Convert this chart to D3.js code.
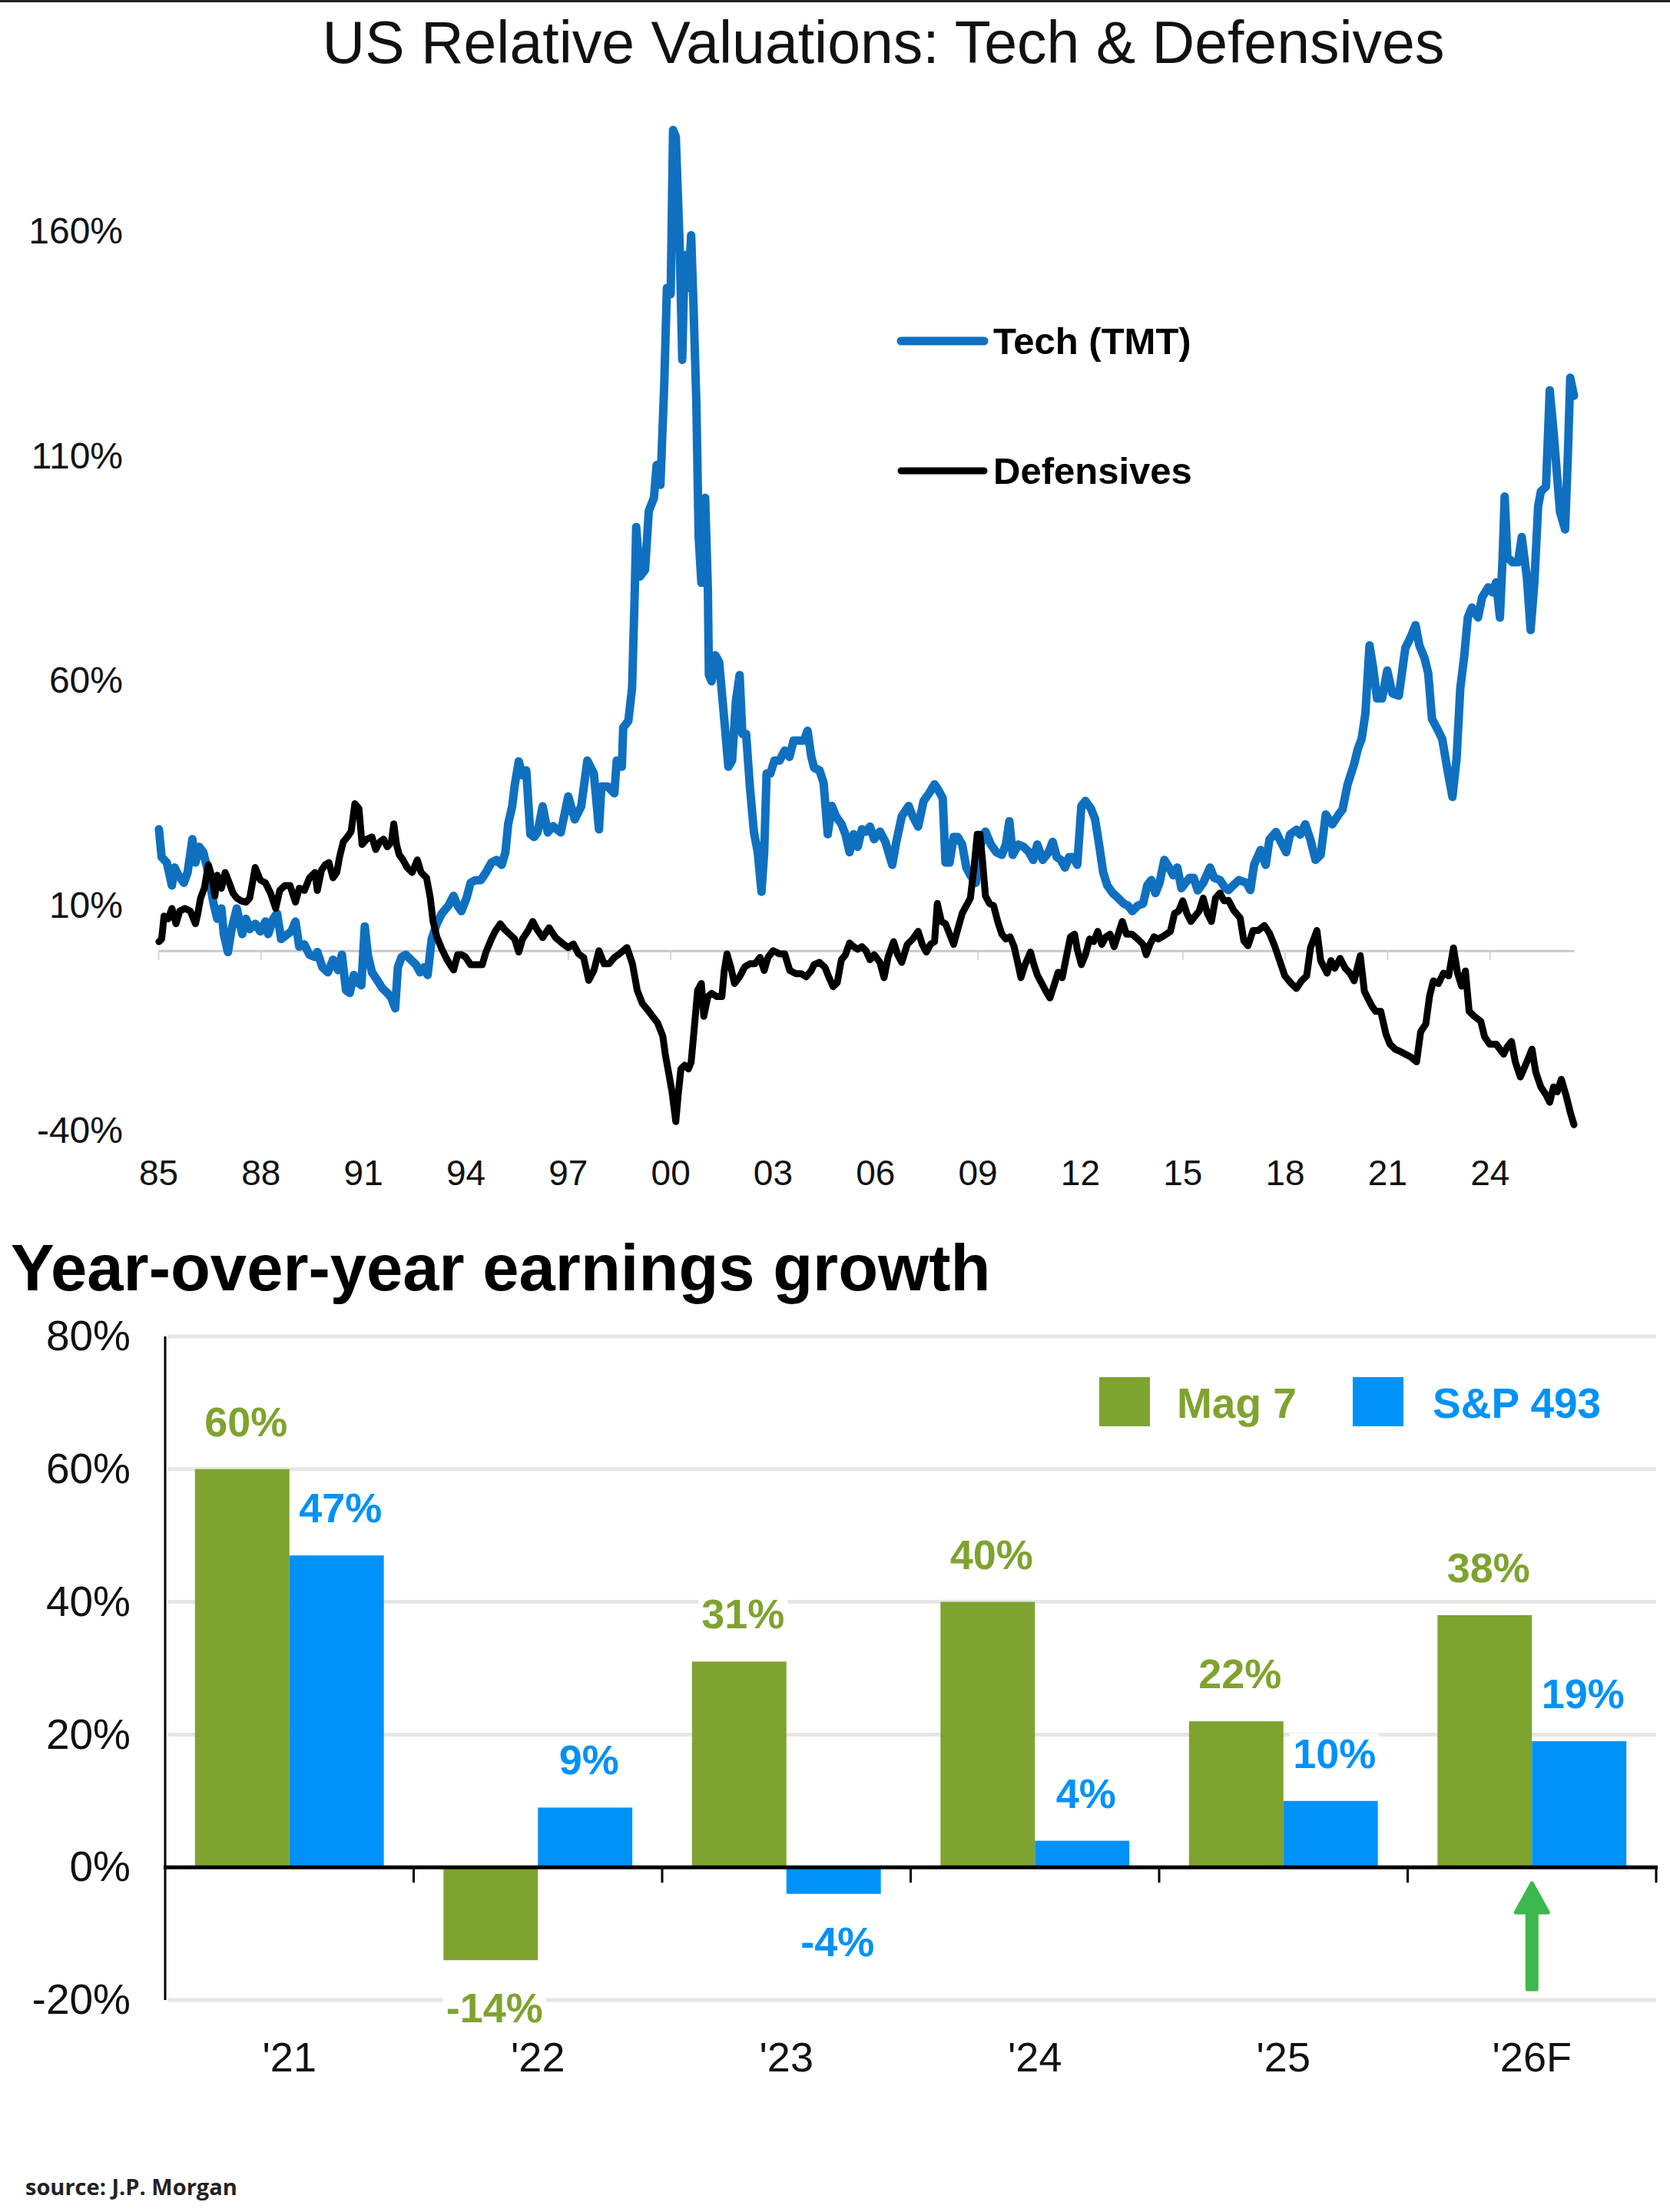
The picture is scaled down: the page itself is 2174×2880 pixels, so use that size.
<!DOCTYPE html>
<meta charset="utf-8">
<style>
  body { margin: 0; background: #fff; }
  svg { display: block; }
</style>
<svg width="2174" height="2880"></svg>
<script src="https://d3js.org/d3.v7.min.js"></script>
<script>

// relative valuation vs market, % (year, value)
var techSeries = [
  [1985.02,27.0],[1985.10,20.8],[1985.25,19.6],[1985.40,14.5],[1985.48,18.5],[1985.59,16.8],[1985.75,15.1],[1985.86,17.4],
  [1986.00,24.8],[1986.09,19.6],[1986.20,23.1],[1986.32,21.9],[1986.43,18.5],[1986.51,15.1],[1986.62,10.5],[1986.73,7.1],
  [1986.85,9.4],[1986.92,3.7],[1987.04,-0.3],[1987.15,4.8],[1987.30,9.4],[1987.46,3.7],[1987.57,7.1],[1987.68,4.8],
  [1987.84,6.0],[1987.99,4.3],[1988.14,6.5],[1988.22,3.7],[1988.37,7.1],[1988.48,8.3],[1988.60,2.6],[1988.79,3.7],
  [1988.90,4.3],[1989.02,6.5],[1989.13,0.9],[1989.28,1.4],[1989.43,-0.9],[1989.59,-1.4],[1989.66,-0.3],[1989.81,-3.7],
  [1989.97,-4.8],[1990.12,-2.0],[1990.27,-4.3],[1990.38,-0.9],[1990.50,-8.8],[1990.61,-9.4],[1990.73,-5.4],[1990.84,-7.1],
  [1990.95,-7.7],[1991.05,5.4],[1991.14,-0.9],[1991.26,-4.8],[1991.41,-6.5],[1991.56,-8.3],[1991.71,-9.4],[1991.83,-10.5],
  [1991.94,-12.8],[1992.02,-3.7],[1992.13,-1.4],[1992.25,-0.9],[1992.40,-2.0],[1992.55,-3.1],[1992.67,-4.8],[1992.78,-3.7],
  [1992.89,-5.4],[1993.01,2.6],[1993.16,6.0],[1993.31,8.3],[1993.50,10.0],[1993.65,12.2],[1993.77,10.0],[1993.88,8.8],
  [1994.03,11.7],[1994.15,15.1],[1994.30,15.7],[1994.45,15.7],[1994.60,17.4],[1994.76,19.6],[1994.91,20.2],[1995.06,19.1],
  [1995.17,21.9],[1995.25,28.2],[1995.37,32.2],[1995.44,36.7],[1995.56,42.1],[1995.67,39.0],[1995.78,40.1],[1995.90,25.9],
  [1996.01,25.3],[1996.11,26.3],[1996.26,32.1],[1996.41,26.3],[1996.56,27.7],[1996.79,26.3],[1997.01,34.3],[1997.20,29.2],
  [1997.39,32.1],[1997.57,42.3],[1997.76,39.4],[1997.91,27.0],[1997.98,36.5],[1998.17,36.5],[1998.36,35.0],[1998.43,42.3],
  [1998.58,40.9],[1998.62,49.6],[1998.77,51.1],[1998.88,58.4],[1998.96,80.3],[1999.00,94.2],[1999.11,83.2],[1999.26,84.7],
  [1999.37,97.8],[1999.52,100.7],[1999.60,108.0],[1999.71,103.6],[1999.82,125.5],[1999.90,147.4],[2000.01,146.0],[2000.08,182.5],
  [2000.16,181.0],[2000.27,157.7],[2000.35,131.4],[2000.42,154.7],[2000.53,147.4],[2000.61,159.1],[2000.68,143.1],[2000.76,122.6],
  [2000.83,92.0],[2000.91,81.8],[2001.02,100.7],[2001.10,80.3],[2001.13,61.3],[2001.21,59.9],[2001.32,65.7],[2001.43,64.2],
  [2001.55,54.0],[2001.70,40.9],[2001.81,42.3],[2001.92,55.5],[2002.03,61.3],[2002.11,48.2],[2002.22,48.2],[2002.33,36.5],
  [2002.45,26.3],[2002.56,21.9],[2002.67,13.1],[2002.75,21.9],[2002.82,39.4],[2002.93,39.4],[2003.05,42.3],[2003.20,42.3],
  [2003.35,44.5],[2003.49,43.1],[2003.61,46.7],[2003.76,46.7],[2003.91,46.7],[2004.02,48.9],[2004.13,43.1],[2004.21,40.7],
  [2004.37,40.1],[2004.49,37.3],[2004.61,25.9],[2004.73,32.2],[2004.85,29.9],[2005.01,28.2],[2005.13,25.9],[2005.25,21.9],
  [2005.37,25.9],[2005.49,23.1],[2005.61,27.0],[2005.73,26.5],[2005.85,27.6],[2005.97,24.8],[2006.14,26.5],[2006.30,24.2],
  [2006.50,19.1],[2006.62,24.2],[2006.78,29.9],[2006.98,32.2],[2007.10,29.9],[2007.26,27.6],[2007.42,33.3],[2007.58,35.0],
  [2007.74,37.0],[2007.86,35.6],[2007.98,33.9],[2008.06,19.6],[2008.18,19.6],[2008.30,25.3],[2008.42,25.3],[2008.55,23.6],
  [2008.67,18.5],[2008.79,16.8],[2008.95,15.1],[2009.07,23.1],[2009.23,26.5],[2009.39,23.6],[2009.55,21.9],[2009.71,21.3],
  [2009.83,23.6],[2009.93,28.8],[2010.03,21.3],[2010.19,23.6],[2010.35,23.1],[2010.51,21.9],[2010.63,20.2],[2010.75,23.6],
  [2010.91,20.2],[2011.08,21.9],[2011.20,24.2],[2011.32,20.8],[2011.44,20.2],[2011.56,18.5],[2011.68,20.8],[2011.80,20.8],
  [2011.92,19.1],[2012.04,32.2],[2012.16,33.3],[2012.32,31.6],[2012.44,29.3],[2012.56,23.6],[2012.68,17.4],[2012.80,14.5],
  [2012.96,12.8],[2013.12,11.7],[2013.28,10.5],[2013.41,10.0],[2013.53,8.8],[2013.69,10.0],[2013.85,10.5],[2013.97,14.5],
  [2014.09,15.7],[2014.21,12.8],[2014.33,15.1],[2014.47,20.2],[2014.61,18.5],[2014.73,16.8],[2014.85,18.5],[2014.97,13.9],
  [2015.09,15.1],[2015.21,16.2],[2015.33,16.2],[2015.45,13.4],[2015.61,15.1],[2015.81,18.5],[2015.93,16.2],[2016.10,15.7],
  [2016.26,13.9],[2016.35,13.5],[2016.65,15.7],[2016.88,15.1],[2016.99,13.5],[2017.10,19.1],[2017.29,22.4],[2017.44,19.1],
  [2017.55,24.7],[2017.74,26.4],[2017.85,24.7],[2018.04,21.9],[2018.15,25.8],[2018.34,26.9],[2018.45,25.8],[2018.60,28.1],
  [2018.75,24.7],[2018.90,20.2],[2019.05,21.3],[2019.20,30.3],[2019.39,28.1],[2019.58,30.3],[2019.69,31.4],[2019.84,37.0],
  [2020.03,41.5],[2020.14,44.9],[2020.25,47.1],[2020.36,52.7],[2020.48,67.9],[2020.59,62.8],[2020.70,56.1],[2020.85,56.1],
  [2021.00,62.3],[2021.15,57.2],[2021.34,56.7],[2021.53,67.3],[2021.68,69.6],[2021.83,72.4],[2021.94,67.9],[2022.09,65.1],
  [2022.20,61.7],[2022.31,51.6],[2022.46,49.4],[2022.61,47.1],[2022.76,40.4],[2022.91,34.2],[2023.03,42.6],[2023.14,58.4],
  [2023.25,65.1],[2023.36,74.1],[2023.48,76.3],[2023.66,74.1],[2023.78,78.6],[2023.96,80.8],[2024.08,79.7],[2024.19,81.9],
  [2024.30,74.1],[2024.38,87.5],[2024.44,101.0],[2024.52,87.5],[2024.67,86.4],[2024.83,86.4],[2024.94,92.0],[2025.09,83.0],
  [2025.20,71.3],[2025.31,81.9],[2025.42,98.8],[2025.50,102.1],[2025.65,103.2],[2025.76,124.6],[2025.87,115.6],[2026.06,97.6],
  [2026.21,93.7],[2026.29,110.0],[2026.36,127.4],[2026.47,123.4]
];

var defensiveSeries = [
  [1985.02,2.0],[1985.10,2.6],[1985.17,7.7],[1985.29,7.1],[1985.40,9.4],[1985.52,6.0],[1985.63,8.8],[1985.78,9.4],
  [1985.94,8.8],[1986.09,6.0],[1986.16,8.3],[1986.24,11.7],[1986.35,13.9],[1986.47,19.1],[1986.58,16.2],[1986.66,12.2],
  [1986.73,16.8],[1986.85,13.9],[1986.96,17.4],[1987.08,15.1],[1987.19,12.8],[1987.30,11.7],[1987.42,11.1],[1987.57,10.8],
  [1987.68,11.7],[1987.84,18.5],[1987.99,15.7],[1988.14,15.1],[1988.29,12.8],[1988.44,9.4],[1988.56,13.4],[1988.71,14.5],
  [1988.86,14.5],[1989.02,10.8],[1989.13,13.9],[1989.28,13.4],[1989.43,16.2],[1989.59,17.4],[1989.66,13.4],[1989.78,17.9],
  [1989.89,19.1],[1990.00,19.6],[1990.12,16.2],[1990.23,17.4],[1990.31,20.8],[1990.42,24.2],[1990.54,25.3],[1990.65,26.5],
  [1990.76,32.7],[1990.88,31.6],[1990.97,23.6],[1991.11,24.8],[1991.26,25.3],[1991.37,22.5],[1991.49,24.2],[1991.60,24.8],
  [1991.71,23.1],[1991.83,24.2],[1991.90,28.2],[1991.98,23.6],[1992.06,21.3],[1992.17,20.2],[1992.29,18.5],[1992.44,17.4],
  [1992.59,20.2],[1992.70,17.4],[1992.86,16.2],[1992.97,11.7],[1993.05,6.5],[1993.16,3.1],[1993.31,0.3],[1993.46,-2.0],
  [1993.65,-4.3],[1993.77,-0.9],[1993.88,-0.9],[1994.00,-1.4],[1994.15,-3.1],[1994.34,-3.1],[1994.49,-3.1],[1994.60,-0.3],
  [1994.76,2.6],[1994.87,4.3],[1995.02,6.0],[1995.14,4.8],[1995.29,3.7],[1995.44,2.6],[1995.56,-0.3],[1995.67,2.6],
  [1995.82,4.3],[1995.97,6.5],[1996.09,4.8],[1996.26,2.9],[1996.45,5.1],[1996.64,2.9],[1996.86,1.5],[1997.01,0.7],
  [1997.16,1.5],[1997.31,-0.7],[1997.46,-1.5],[1997.61,-6.6],[1997.76,-4.4],[1997.91,0.0],[1998.06,-2.9],[1998.21,-2.9],
  [1998.36,-1.5],[1998.51,-0.7],[1998.73,0.7],[1998.89,-2.9],[1999.03,-8.8],[1999.18,-11.7],[1999.33,-13.1],[1999.48,-14.6],
  [1999.63,-16.1],[1999.78,-19.0],[1999.86,-23.4],[1999.93,-26.3],[2000.05,-31.4],[2000.16,-38.0],[2000.23,-32.1],[2000.31,-26.3],
  [2000.42,-25.5],[2000.53,-26.3],[2000.61,-24.8],[2000.68,-19.0],[2000.80,-8.8],[2000.91,-7.3],[2000.98,-14.6],[2001.10,-10.2],
  [2001.21,-9.5],[2001.36,-10.2],[2001.51,-10.2],[2001.58,-4.4],[2001.66,-0.7],[2001.77,-3.6],[2001.88,-7.3],[2002.03,-5.8],
  [2002.18,-3.6],[2002.33,-2.9],[2002.48,-2.9],[2002.63,-1.5],[2002.75,-4.4],[2002.86,-1.5],[2003.01,0.0],[2003.20,-0.7],
  [2003.35,-0.7],[2003.50,-4.4],[2003.68,-5.1],[2003.83,-5.1],[2003.98,-5.8],[2004.13,-4.4],[2004.21,-3.1],[2004.37,-2.6],
  [2004.53,-3.7],[2004.65,-6.0],[2004.77,-8.0],[2004.89,-7.1],[2005.01,-2.0],[2005.13,-0.9],[2005.25,1.7],[2005.37,0.9],
  [2005.49,0.3],[2005.61,0.9],[2005.73,0.0],[2005.85,-2.0],[2005.97,-0.9],[2006.14,-2.6],[2006.26,-6.0],[2006.38,-1.4],
  [2006.54,2.0],[2006.66,-0.9],[2006.78,-2.6],[2006.94,1.4],[2007.10,2.6],[2007.26,4.3],[2007.38,1.4],[2007.50,-0.3],
  [2007.62,1.4],[2007.74,2.0],[2007.82,10.5],[2007.94,6.5],[2008.06,6.0],[2008.18,3.7],[2008.30,1.4],[2008.42,4.8],
  [2008.55,8.3],[2008.67,10.0],[2008.79,11.7],[2008.91,19.6],[2008.99,25.9],[2009.07,25.9],[2009.15,19.6],[2009.23,12.2],
  [2009.35,10.5],[2009.47,10.0],[2009.59,6.5],[2009.71,3.7],[2009.83,2.6],[2009.95,3.1],[2010.07,0.9],[2010.19,-3.1],
  [2010.27,-6.0],[2010.39,-3.1],[2010.55,-0.3],[2010.63,-2.6],[2010.75,-5.4],[2010.91,-7.7],[2011.03,-9.4],[2011.12,-10.5],
  [2011.24,-7.7],[2011.36,-4.8],[2011.48,-6.0],[2011.60,-1.4],[2011.72,3.1],[2011.84,3.7],[2011.92,0.3],[2012.04,-3.1],
  [2012.16,-0.9],[2012.28,2.6],[2012.40,2.0],[2012.52,4.3],[2012.64,1.4],[2012.76,3.1],[2012.88,3.7],[2013.00,0.9],
  [2013.12,3.7],[2013.24,6.5],[2013.36,3.7],[2013.52,3.7],[2013.69,2.6],[2013.85,1.4],[2013.94,-0.9],[2014.05,1.4],
  [2014.17,3.1],[2014.29,2.6],[2014.41,3.1],[2014.53,3.7],[2014.65,4.3],[2014.77,8.3],[2014.89,8.8],[2015.01,11.1],
  [2015.13,8.3],[2015.25,6.5],[2015.37,7.7],[2015.49,8.8],[2015.61,11.7],[2015.73,8.3],[2015.85,6.5],[2015.97,11.7],
  [2016.10,12.8],[2016.22,11.1],[2016.35,11.2],[2016.50,9.0],[2016.69,7.3],[2016.80,2.2],[2016.92,1.1],[2017.07,4.5],
  [2017.22,4.5],[2017.40,5.6],[2017.55,3.9],[2017.70,1.1],[2017.85,-2.2],[2018.00,-5.6],[2018.19,-7.3],[2018.34,-8.4],
  [2018.49,-6.7],[2018.64,-5.6],[2018.75,0.6],[2018.94,4.5],[2019.05,-2.2],[2019.24,-5.0],[2019.35,-2.2],[2019.46,-3.9],
  [2019.62,-1.7],[2019.77,-3.9],[2019.91,-5.0],[2020.03,-6.7],[2020.21,-1.1],[2020.33,-9.0],[2020.44,-10.7],[2020.55,-12.3],
  [2020.66,-13.5],[2020.81,-13.5],[2020.96,-18.5],[2021.08,-20.8],[2021.23,-21.9],[2021.38,-22.4],[2021.53,-23.0],[2021.68,-23.6],
  [2021.86,-24.7],[2021.98,-18.0],[2022.13,-16.3],[2022.24,-10.1],[2022.35,-6.7],[2022.50,-7.3],[2022.65,-5.0],[2022.80,-5.6],
  [2022.94,0.6],[2023.06,-5.0],[2023.18,-7.9],[2023.29,-4.5],[2023.40,-13.5],[2023.55,-14.6],[2023.74,-15.7],[2023.85,-19.1],
  [2024.00,-20.8],[2024.19,-20.8],[2024.30,-21.9],[2024.41,-23.0],[2024.52,-21.3],[2024.64,-20.2],[2024.75,-24.7],[2024.90,-28.1],
  [2025.09,-24.7],[2025.24,-21.9],[2025.35,-27.0],[2025.50,-30.3],[2025.65,-32.0],[2025.76,-33.7],[2025.87,-30.3],[2025.98,-31.4],
  [2026.10,-28.6],[2026.25,-32.5],[2026.36,-35.9],[2026.47,-38.7]
];

var valuationTicks = [-40, 10, 60, 110, 160];
var yearTicks = [1985, 1988, 1991, 1994, 1997, 2000, 2003, 2006, 2009, 2012, 2015, 2018, 2021, 2024];

var earningsYears = ["'21", "'22", "'23", "'24", "'25", "'26F"];
var earningsSeries = ["Mag 7", "S&P 493"];
var mag7Growth = [60, -14, 31, 40, 22, 38];
var sp493Growth = [47, 9, -4, 4, 10, 19];
var growthTicks = [-20, 0, 20, 40, 60, 80];

var width = 2174,
    height = 2880,
    font = "'Liberation Sans', Arial, Helvetica, sans-serif",
    techBlue = "#1070c0",
    green = "#7fa32f",
    blue = "#0092f8";

var svg = d3.select("svg").attr("font-family", font);

svg.append("rect").attr("width", width).attr("height", height).attr("fill", "#fff");
svg.append("rect").attr("width", width).attr("height", 3).attr("fill", "#222");

// ---------- top: relative valuations ----------

svg.append("text")
    .attr("x", 1150).attr("y", 82)
    .attr("text-anchor", "middle")
    .attr("font-size", 77)
    .attr("fill", "#111")
    .text("US Relative Valuations: Tech & Defensives");

var x = d3.scaleLinear().domain([1985, 2026.47]).range([206, 2049]),
    y = d3.scaleLinear().domain([-40, 160]).range([1472, 301]);

var yAxis = svg.append("g")
    .attr("transform", "translate(206,0)")
    .call(d3.axisLeft(y).tickValues(valuationTicks).tickSize(0).tickPadding(46).tickFormat(function(d) { return d + "%"; }));
yAxis.select(".domain").remove();
yAxis.selectAll("text").attr("font-size", 48).attr("font-family", font).attr("fill", "#111");

var zeroAxis = svg.append("g")
    .attr("transform", "translate(0," + y(0) + ")")
    .call(d3.axisBottom(x).tickValues(yearTicks).tickSize(12).tickSizeOuter(0).tickFormat(""));
zeroAxis.select(".domain").attr("stroke", "#c8c8c8").attr("stroke-width", 3);
zeroAxis.selectAll(".tick line").attr("stroke", "#d4d4d4").attr("stroke-width", 2);

var xAxis = svg.append("g")
    .attr("transform", "translate(0,1472)")
    .call(d3.axisBottom(x).tickValues(yearTicks).tickSize(0).tickPadding(38)
      .tickFormat(function(d) { return String(d % 100).padStart(2, "0"); }));
xAxis.select(".domain").remove();
xAxis.selectAll("text").attr("font-size", 46).attr("font-family", font).attr("fill", "#111");

var line = d3.line()
    .x(function(d) { return x(d[0]); })
    .y(function(d) { return y(d[1]); });

svg.append("path")
    .datum(techSeries)
    .attr("d", line)
    .attr("fill", "none")
    .attr("stroke", techBlue)
    .attr("stroke-width", 11)
    .attr("stroke-linejoin", "round")
    .attr("stroke-linecap", "round");

svg.append("path")
    .datum(defensiveSeries)
    .attr("d", line)
    .attr("fill", "none")
    .attr("stroke", "#000")
    .attr("stroke-width", 9)
    .attr("stroke-linejoin", "round")
    .attr("stroke-linecap", "round");

var lineLegend = svg.append("g").selectAll("g")
    .data([["Tech (TMT)", techBlue, 444, 11], ["Defensives", "#000", 613, 9]])
  .enter().append("g");

lineLegend.append("line")
    .attr("x1", 1173).attr("x2", 1281)
    .attr("y1", function(d) { return d[2]; }).attr("y2", function(d) { return d[2]; })
    .attr("stroke", function(d) { return d[1]; })
    .attr("stroke-width", function(d) { return d[3]; })
    .attr("stroke-linecap", "round");

lineLegend.append("text")
    .attr("x", 1293)
    .attr("y", function(d) { return d[2] + 17; })
    .attr("font-size", 49)
    .attr("font-weight", 700)
    .attr("fill", "#000")
    .text(function(d) { return d[0]; });

// ---------- bottom: earnings growth ----------

svg.append("text")
    .attr("x", 14).attr("y", 1680)
    .attr("font-size", 85)
    .attr("font-weight", 700)
    .attr("fill", "#000")
    .text("Year-over-year earnings growth");

var x0 = d3.scaleBand().domain(earningsYears).range([215, 2156]).paddingInner(0.24).paddingOuter(0.12),
    x1 = d3.scaleBand().domain(earningsSeries).range([0, x0.bandwidth()]),
    y2 = d3.scaleLinear().domain([-20, 80]).range([2604, 1740]),
    colour = d3.scaleOrdinal().domain(earningsSeries).range([green, blue]);

svg.append("g").selectAll("line")
    .data(growthTicks.filter(function(d) { return d !== 0; }))
  .enter().append("line")
    .attr("x1", 218).attr("x2", 2156)
    .attr("y1", function(d) { return y2(d); }).attr("y2", function(d) { return y2(d); })
    .attr("stroke", "#e6e6e6")
    .attr("stroke-width", 5);

var gAxis = svg.append("g")
    .attr("transform", "translate(215,0)")
    .call(d3.axisLeft(y2).tickValues(growthTicks).tickSize(0).tickPadding(45).tickFormat(function(d) { return d + "%"; }));
gAxis.select(".domain").remove();
gAxis.selectAll("text").attr("font-size", 55).attr("font-family", font).attr("fill", "#111");

var rows = earningsYears.map(function(c, i) {
  return { year: c, values: [
    { key: "Mag 7", value: mag7Growth[i] },
    { key: "S&P 493", value: sp493Growth[i] }
  ] };
});

var groups = svg.append("g").selectAll("g")
    .data(rows)
  .enter().append("g")
    .attr("transform", function(d) { return "translate(" + x0(d.year) + ",0)"; });

groups.selectAll("rect")
    .data(function(d) { return d.values; })
  .enter().append("rect")
    .attr("x", function(d) { return x1(d.key); })
    .attr("width", x1.bandwidth())
    .attr("y", function(d) { return y2(Math.max(0, d.value)); })
    .attr("height", function(d) { return Math.abs(y2(d.value) - y2(0)); })
    .attr("fill", function(d) { return colour(d.key); });

var labels = groups.selectAll("text")
    .data(function(d) { return d.values; })
  .enter().append("text")
    .attr("x", function(d) { return x1(d.key) + x1.bandwidth() / 2 + 5; })
    .attr("y", function(d) {
      return d.value >= 0 ? y2(d.value) - 62 + 19 : y2(d.value) + 62 + 19;
    })
    .attr("text-anchor", "middle")
    .attr("font-size", 54)
    .attr("font-weight", 700)
    .attr("fill", function(d) { return colour(d.key); })
    .text(function(d) { return d.value + "%"; });

labels.each(function() {
  var b = this.getBBox();
  d3.select(this.parentNode).insert("rect", function() { return this.firstChild; }.bind(this.parentNode))
      .attr("x", b.x - 4).attr("y", b.y + 4)
      .attr("width", b.width + 8).attr("height", b.height - 8)
      .attr("fill", "#fff");
});

// axes on top of bars
svg.append("line")
    .attr("x1", 215).attr("x2", 215)
    .attr("y1", 1740).attr("y2", 2604)
    .attr("stroke", "#000").attr("stroke-width", 3);

svg.append("line")
    .attr("x1", 213).attr("x2", 2158)
    .attr("y1", y2(0)).attr("y2", y2(0))
    .attr("stroke", "#000").attr("stroke-width", 5);

svg.append("g").selectAll("line")
    .data(earningsYears)
  .enter().append("line")
    .attr("x1", function(d) { return x0(d) + x0.bandwidth() + (x0.step() - x0.bandwidth()) / 2; })
    .attr("x2", function(d) { return x0(d) + x0.bandwidth() + (x0.step() - x0.bandwidth()) / 2; })
    .attr("y1", y2(0)).attr("y2", y2(0) + 20)
    .attr("stroke", "#000").attr("stroke-width", 3);

svg.append("g").selectAll("text")
    .data(earningsYears)
  .enter().append("text")
    .attr("x", function(d) { return x0(d) + x0.bandwidth() / 2; })
    .attr("y", 2697)
    .attr("text-anchor", "middle")
    .attr("font-size", 54)
    .attr("fill", "#111")
    .text(function(d) { return d; });

var barLegend = svg.append("g").selectAll("g")
    .data([["Mag 7", 1431, 1532], ["S&P 493", 1761, 1865]])
  .enter().append("g");

barLegend.append("rect")
    .attr("x", function(d) { return d[1]; })
    .attr("y", 1793)
    .attr("width", 66).attr("height", 64)
    .attr("fill", function(d) { return colour(d[0]); });

barLegend.append("text")
    .attr("x", function(d) { return d[2]; })
    .attr("y", 1846)
    .attr("font-size", 55)
    .attr("font-weight", 700)
    .attr("fill", function(d) { return colour(d[0]); })
    .text(function(d) { return d[0]; });

// arrow under the 2026 forecast
var ax = x0("'26F") + x1("S&P 493");
svg.append("path")
    .attr("d", "M" + ax + ",2452 L" + (ax + 21) + ",2490 L" + (ax + 6) + ",2490 L" + (ax + 6) + ",2590 L" +
      (ax - 6) + ",2590 L" + (ax - 6) + ",2490 L" + (ax - 21) + ",2490 Z")
    .attr("fill", "#3cb84c")
    .attr("stroke", "#3cb84c")
    .attr("stroke-width", 5)
    .attr("stroke-linejoin", "round");

svg.append("text")
    .attr("x", 33).attr("y", 2858)
    .attr("font-family", "'Open Sans', sans-serif")
    .attr("font-size", 29)
    .attr("font-weight", 700)
    .attr("fill", "#222")
    .text("source: J.P. Morgan");

</script>
